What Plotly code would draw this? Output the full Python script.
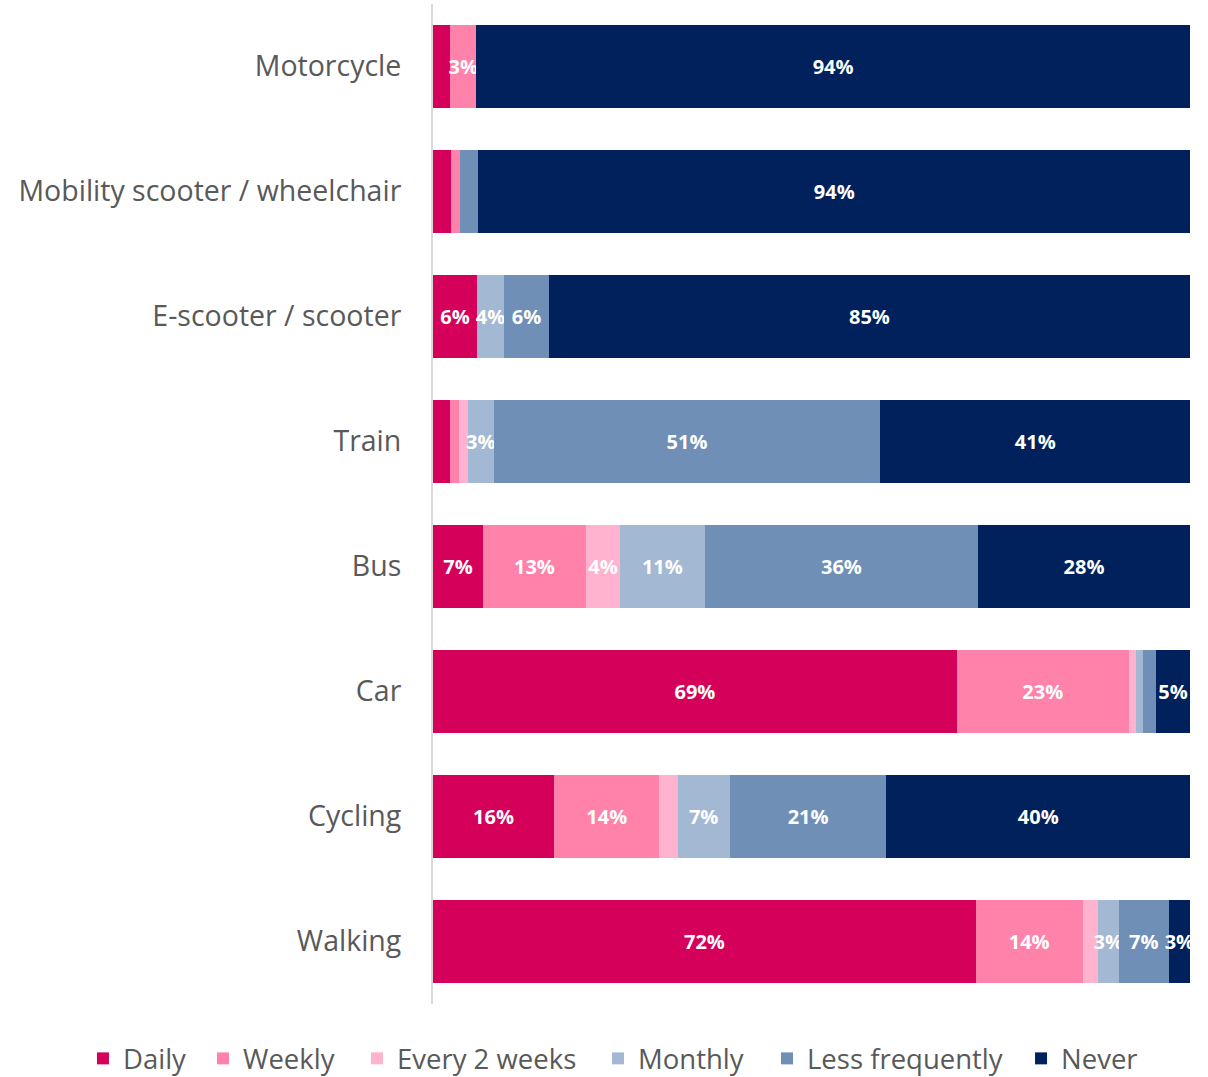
import plotly.graph_objects as go

categories = ["Motorcycle", "Mobility scooter / wheelchair", "E-scooter / scooter",
              "Train", "Bus", "Car", "Cycling", "Walking"]
series_names = ["Daily", "Weekly", "Every 2 weeks", "Monthly", "Less frequently", "Never"]

daily =        [2.3, 2.4, 5.8, 2.2, 6.6, 69.2, 16.0, 71.7]
weekly =       [3.4, 1.2, 0.0, 1.2, 13.6, 22.7, 13.9, 14.1]
every2weeks =  [0.0, 0.0, 0.0, 1.2, 4.5, 0.9, 2.4, 2.0]
monthly =      [0.0, 0.0, 3.6, 3.4, 11.2, 1.0, 6.9, 2.8]
less_freq =    [0.0, 2.4, 5.9, 51.1, 36.1, 1.7, 20.7, 6.6]
never =        [94.3, 94.0, 84.7, 40.9, 28.0, 4.5, 40.1, 2.8]

# data labels as printed on the chart
daily_lbl =    ["", "", "6%", "", "7%", "69%", "16%", "72%"]
weekly_lbl =   ["3%", "", "", "", "13%", "23%", "14%", "14%"]
every2_lbl =   ["", "", "", "", "4%", "", "", ""]
monthly_lbl =  ["", "", "4%", "3%", "11%", "", "7%", "3%"]
less_lbl =     ["", "", "6%", "51%", "36%", "", "21%", "7%"]
never_lbl =    ["94%", "94%", "85%", "41%", "28%", "5%", "40%", "3%"]

colors = ["#D40059", "#FF82AA", "#FFB3CE", "#A3B8D3", "#6F8FB7", "#00215B"]

# horizontal placement of each legend entry (paper coordinates)
legend_x = [-0.4624, -0.3038, -0.1004, 0.2180, 0.4412, 0.7768]
legend_ids = ["legend", "legend2", "legend3", "legend4", "legend5", "legend6"]

fig = go.Figure()
for name, vals, lbls, col, lid in zip(series_names,
                                      [daily, weekly, every2weeks, monthly, less_freq, never],
                                      [daily_lbl, weekly_lbl, every2_lbl, monthly_lbl, less_lbl, never_lbl],
                                      colors, legend_ids):
    fig.add_trace(go.Bar(
        y=categories, x=vals, name=name, orientation="h",
        marker=dict(color=col, line=dict(width=0)),
        text=lbls, textposition="inside", insidetextanchor="middle",
        textangle=0, constraintext="none",
        textfont=dict(family="Open Sans", size=20, color="white", weight="bold"),
        hoverinfo="skip", legend=lid, showlegend=True,
    ))

legend_style = dict(orientation="h", xanchor="left", y=-0.03, yanchor="top",
                    font=dict(size=27.5, color="#595959"), itemwidth=30,
                    bgcolor="rgba(0,0,0,0)")
legend_layout = {lid: dict(legend_style, x=lx) for lid, lx in zip(legend_ids, legend_x)}

fig.update_layout(
    showlegend=True,
    barmode="stack",
    bargap=0.336,
    width=1208, height=1077,
    margin=dict(l=433, r=18, t=4, b=73, autoexpand=False),
    plot_bgcolor="white", paper_bgcolor="white",
    font=dict(family="Open Sans", color="#595959"),
    xaxis=dict(range=[0, 100], visible=False, fixedrange=True),
    yaxis=dict(categoryorder="array", categoryarray=categories[::-1],
               showline=True, linecolor="#D9D9D9", linewidth=2,
               ticks="", ticklen=0, tickfont=dict(size=28.5, color="#595959"),
               ticklabelstandoff=24, showgrid=False, fixedrange=True),
    uniformtext=dict(mode="show", minsize=20),
    **legend_layout,
)

fig.write_html("out.html", config={"displayModeBar": False},
               post_script="document.body.style.margin='0';")
